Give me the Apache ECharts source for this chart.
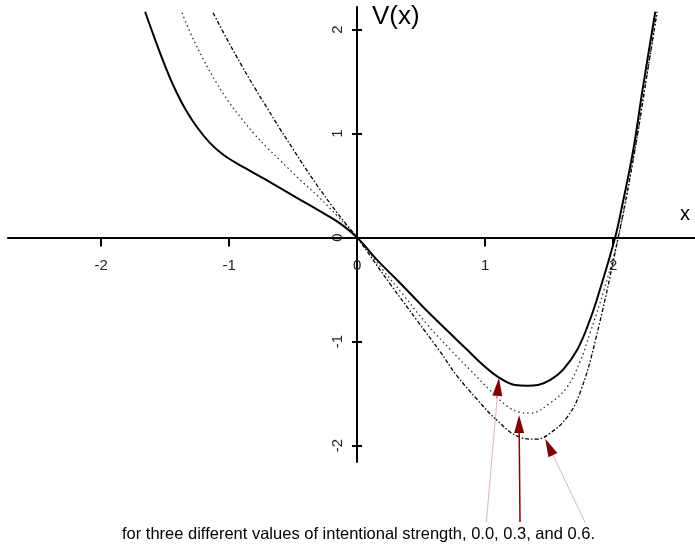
<!DOCTYPE html>
<html>
<head>
<meta charset="utf-8">
<script src="https://cdn.jsdelivr.net/npm/echarts@6/dist/echarts.min.js"></script>
<style>
html,body{margin:0;padding:0;background:#fff;}
#chart{width:695px;height:546px;}
</style>
</head>
<body>
<div id="chart"></div>
<script>
// Tick labels
var xTicks = [-2, -1, 0, 1, 2];
var yTicks = [-2, -1, 0, 1, 2];

// Curve 1: intentional strength 0.0 (solid)
var xSolid = [-1.656, -1.58, -1.50, -1.42, -1.34, -1.25, -1.15, -1.05, -0.95, -0.85, -0.72, -0.58, -0.44, -0.30, -0.15, 0,
  0.156, 0.336, 0.516, 0.70, 0.86, 0.984, 1.10, 1.234, 1.33, 1.414, 1.51, 1.61, 1.72, 1.82, 1.90, 2.016, 2.07, 2.156, 2.234, 2.33];
var ySolid = [2.17, 1.91, 1.65, 1.42, 1.23, 1.06, 0.91, 0.80, 0.72, 0.65, 0.56, 0.46, 0.36, 0.26, 0.15, 0,
  -0.216, -0.4375, -0.668, -0.89, -1.08, -1.226, -1.34, -1.418, -1.425, -1.418, -1.37, -1.27, -1.08, -0.79, -0.49, 0, 0.30, 0.83, 1.45, 2.17];

// Curve 2: intentional strength 0.3 (dotted)
var xDot = [-1.367, -1.30, -1.20, -1.10, -1.0, -0.9, -0.8, -0.7, -0.6, -0.45, -0.3, -0.15, 0,
  0.2, 0.36, 0.55, 0.73, 0.88, 1.04, 1.17, 1.27, 1.35, 1.51, 1.64, 1.74, 1.82, 1.93, 2.05, 2.17, 2.25, 2.344];
var yDot = [2.16, 1.96, 1.71, 1.49, 1.30, 1.14, 0.99, 0.86, 0.74, 0.56, 0.39, 0.20, 0,
  -0.31, -0.55, -0.84, -1.08, -1.27, -1.47, -1.62, -1.68, -1.69, -1.59, -1.44, -1.20, -0.92, -0.50, 0.05, 0.84, 1.45, 2.17];

// Curve 3: intentional strength 0.6 (dash-dot)
var xDash = [-1.125, -1.0, -0.9, -0.8, -0.7, -0.6, -0.5, -0.4, -0.3, -0.2, -0.1, 0,
  0.26, 0.47, 0.65, 0.78, 0.94, 1.09, 1.27, 1.40, 1.51, 1.64, 1.74, 1.86, 2.04, 2.17, 2.25, 2.344];
var yDash = [2.16, 1.87, 1.65, 1.44, 1.24, 1.04, 0.85, 0.66, 0.48, 0.31, 0.15, 0,
  -0.45, -0.80, -1.10, -1.33, -1.56, -1.755, -1.92, -1.94, -1.88, -1.73, -1.50, -1.0, 0, 0.84, 1.45, 2.17];

// Annotation arrows: [tail, head] in data units
var arrowTails = [[1.01, -2.736], [1.273, -2.736], [1.78, -2.736]];
var arrowHeads = [[1.102, -1.4375], [1.266, -1.793], [1.50, -2.014]];
var arrowColors = ['#e2b4b4', '#8b0000', '#e2b4b4'];

var caption = 'for three different values of intentional strength, 0.0, 0.3, and 0.6.';

function zip(xs, ys) { return xs.map(function (x, i) { return [x, ys[i]]; }); }

var FONT = '"Liberation Sans", Arial, sans-serif';
var chart = echarts.init(document.getElementById('chart'), null, {renderer: 'canvas'});

var axisLineStyle = {color: '#000', width: 2};
var tickStyle = {color: '#000', width: 2};

var option = {
  animation: false,
  backgroundColor: '#fff',
  grid: {left: 8, right: 0, top: 7, bottom: 84, containLabel: false, outerBoundsMode: 'none'},
  xAxis: [{
    type: 'value', min: -2.727, max: 2.64, position: 'bottom', offset: -224.5,
    axisLine: {show: true, onZero: false, lineStyle: axisLineStyle},
    axisTick: {show: true, length: 9, inside: false, customValues: xTicks, lineStyle: tickStyle},
    axisLabel: {customValues: xTicks, margin: 21, fontSize: 15, color: '#222', fontFamily: FONT},
    splitLine: {show: false}
  }],
  yAxis: [{
    type: 'value', min: -2.159, max: 2.216, position: 'left', offset: -349,
    axisLine: {show: true, onZero: false, lineStyle: axisLineStyle},
    axisTick: {show: true, length: 5, inside: false, customValues: yTicks, lineStyle: tickStyle},
    axisLabel: {customValues: yTicks, rotate: 90, margin: 12, fontSize: 15, color: '#222', fontFamily: FONT},
    splitLine: {show: false}
  }, {
    type: 'value', min: -2.159, max: 2.216, position: 'left', offset: -349,
    axisLine: {show: false, onZero: false},
    axisTick: {show: true, length: 5, inside: true, customValues: yTicks, lineStyle: tickStyle},
    axisLabel: {show: false},
    splitLine: {show: false}
  }],
  series: [{
    type: 'line', name: '0.0', data: zip(xSolid, ySolid), smooth: 0.4, showSymbol: false, clip: false,
    lineStyle: {color: '#000', width: 2}
  }, {
    type: 'line', name: '0.3', data: zip(xDot, yDot), smooth: 0.4, showSymbol: false, clip: false,
    lineStyle: {color: '#333', width: 1.3, type: [1.5, 3]}
  }, {
    type: 'line', name: '0.6', data: zip(xDash, yDash), smooth: 0.4, showSymbol: false, clip: false,
    lineStyle: {color: '#000', width: 1.3, type: [4, 2, 1.5, 2]}
  }, {
    type: 'lines', coordinateSystem: 'cartesian2d', clip: false, z: 5,
    symbol: ['none', 'none'],
    data: arrowTails.map(function (t, i) {
      return {coords: [t, arrowHeads[i]], lineStyle: {color: arrowColors[i], width: i === 1 ? 1.5 : 1, opacity: 1}};
    })
  }, {
    type: 'lines', coordinateSystem: 'cartesian2d', clip: false, z: 6,
    symbol: ['none', 'triangle'], symbolSize: [1, [10, 18]],
    lineStyle: {color: '#800000', width: 0, opacity: 1},
    data: arrowTails.map(function (t, i) {
      return {coords: [t, arrowHeads[i]]};
    })
  }],
  graphic: [{
    type: 'text', left: 372, top: 4,
    style: {text: 'V(x)', font: '26px ' + FONT, fill: '#000'}
  }, {
    type: 'text', left: 680, top: 204,
    style: {text: 'x', font: '20px ' + FONT, fill: '#000'}
  }, {
    type: 'text', left: 122, top: 526,
    style: {text: caption, font: '16.5px ' + FONT, fill: '#000'}
  }]
};
chart.setOption(option);
</script>
</body>
</html>
